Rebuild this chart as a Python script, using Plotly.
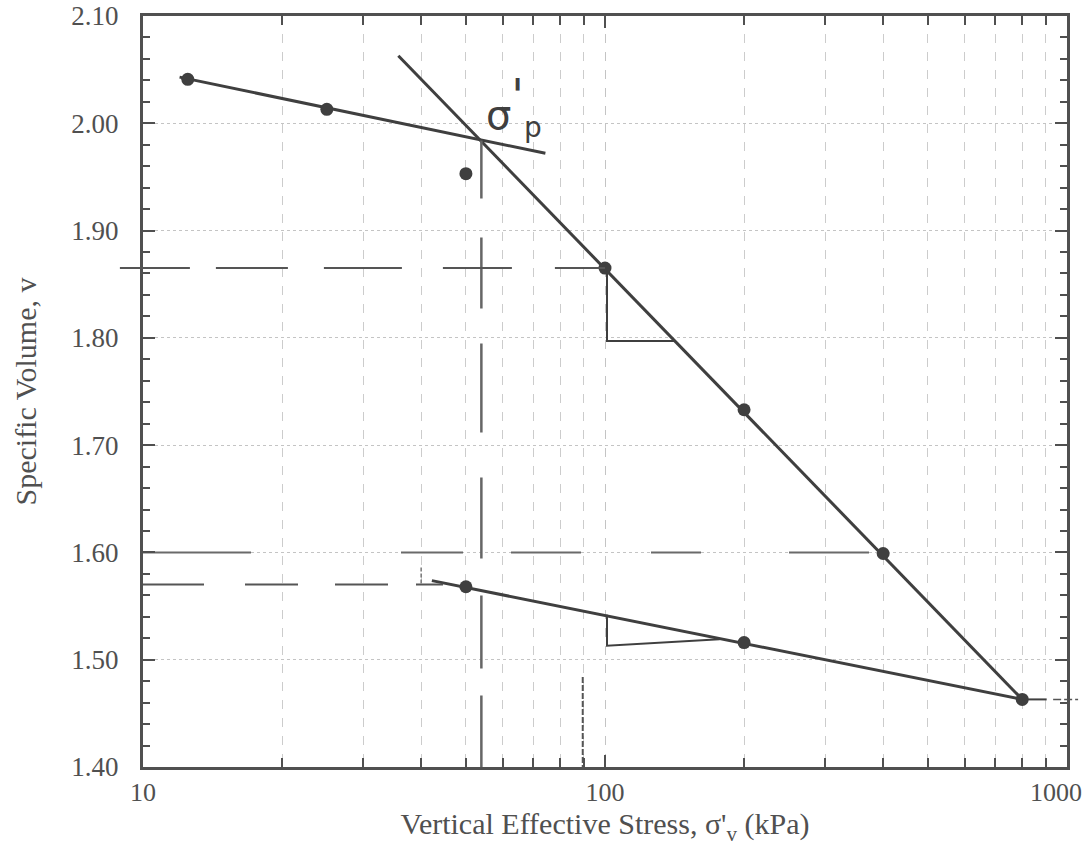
import math
import plotly.graph_objects as go

# ---- data ----
stress_load = [12.5, 25, 50, 100, 200, 400, 800]
v_load = [2.041, 2.013, 1.953, 1.865, 1.733, 1.599, 1.463]
stress_unload = [200, 50]
v_unload = [1.516, 1.568]

# fitted construction lines (hand drawn)
oc_line_x = [12.0, 74.3]
oc_line_v = [2.043, 1.972]
nc_line_x = [35.7, 800]
nc_line_v = [2.063, 1.463]
ur_line_x = [42.2, 800]
ur_line_v = [1.5737, 1.463]

sigma_p = 54.0
sigma_p_v = 1.984

tri1_x = [101, 101, 142]
tri1_v = [1.865, 1.797, 1.797]
tri2_x = [101, 101, 177]
tri2_v = [1.542, 1.513, 1.519]

guide_1865_end = 100
guide_157_end = 44.6
guide_160_end = 400

y_ticks = [1.40, 1.50, 1.60, 1.70, 1.80, 1.90, 2.00, 2.10]
x_ticks = [10, 100, 1000]
x_tick_labels = ["10", "100", "1000"]
x_minor = [20, 30, 40, 50, 60, 70, 80, 90, 200, 300, 400, 500, 600, 700, 800, 900]

INK = "#3f3f3f"
AXC = "#505050"
FONT = "Liberation Serif"

fig = go.Figure()

def px_x(val):
    # paper fraction for a stress value on the 10..1000 log axis
    return (math.log10(val) - 1.0) / 2.0

def line_trace(xs, ys, color=INK, width=3, dash="solid"):
    return go.Scatter(x=xs, y=ys, mode="lines",
                      line=dict(color=color, width=width, dash=dash),
                      hoverinfo="skip", showlegend=False)

# construction lines
fig.add_trace(line_trace(oc_line_x, oc_line_v))
fig.add_trace(line_trace(nc_line_x, nc_line_v))
fig.add_trace(line_trace(ur_line_x, ur_line_v))

# slope triangles
fig.add_trace(line_trace(tri1_x, tri1_v, width=2))
fig.add_trace(line_trace(tri2_x, tri2_v, width=2))

# sigma'_p vertical construction line
fig.add_trace(line_trace([sigma_p, sigma_p], [sigma_p_v, 1.40], color="#666666", width=2.5,
                         dash="58px,39px,71px,35px,89px,45px,81px,37px,73px,27px,80px"))

# 1.60 dashed guide
fig.add_trace(line_trace([10, guide_160_end], [1.60, 1.60], color="#6a6a6a", width=2,
                         dash="108px,150px,62px,48px,70px,70px,50px,88px,80px"))

# 1.57 dashed guide
fig.add_trace(line_trace([10, guide_157_end], [1.57, 1.57], color="#555555", width=2,
                         dash="61px,41px,53px,37px,53px,28px,40px"))

# stray hand strokes
fig.add_trace(line_trace([89.5, 89.5], [1.484, 1.40], color="#555555", width=2, dash="6px,2px"))
fig.add_trace(line_trace([40, 40], [1.586, 1.570], color="#777777", width=1.5, dash="4px,2px"))

# data points
fig.add_trace(go.Scatter(x=stress_load, y=v_load, mode="markers",
                         marker=dict(color=INK, size=13), showlegend=False))
fig.add_trace(go.Scatter(x=stress_unload, y=v_unload, mode="markers",
                         marker=dict(color=INK, size=13), showlegend=False))

shapes = [
    # 1.865 guide extending left of the axis
    dict(type="line", xref="paper", yref="y", x0=-0.025, x1=px_x(guide_1865_end),
         y0=1.865, y1=1.865,
         line=dict(color="#555555", width=2,
                   dash="70px,26px,72px,36px,78px,41px,69px,43px,60px")),
    # 1.463 line to the right of the last point
    dict(type="line", xref="paper", yref="y", x0=px_x(800), x1=0.978,
         y0=1.463, y1=1.463, line=dict(color=INK, width=2)),
    dict(type="line", xref="paper", yref="y", x0=0.985, x1=1.012,
         y0=1.463, y1=1.463, line=dict(color="#555555", width=1.5, dash="8px,3px")),
]

annotations = [
    dict(x=math.log10(63.5), y=2.016, xref="x", yref="y",
         text="σ<sup><span style='font-size:46px'>'</span></sup><sub>p</sub>",
         showarrow=False, font=dict(family="DejaVu Sans", size=40, color=INK)),
    # right-most decade label, pulled inward like the reference
    dict(x=0.988, y=-0.0333, xref="paper", yref="paper", text=x_tick_labels[2],
         showarrow=False, xanchor="center", yanchor="middle",
         font=dict(family=FONT, size=26, color=AXC)),
]

fig.update_layout(
    width=1087, height=854,
    margin=dict(l=143, r=20, t=16, b=87),
    paper_bgcolor="white", plot_bgcolor="white",
    font=dict(family=FONT, color=AXC),
    shapes=shapes, annotations=annotations,
    showlegend=False,
)

fig.update_xaxes(
    type="log", range=[1, 3], automargin=False, ticklabeloverflow="allow",
    tickvals=x_ticks[:2], ticktext=x_tick_labels[:2],
    tickfont=dict(size=26, family=FONT, color=AXC),
    ticks="inside", ticklen=12, tickwidth=2, tickcolor=AXC,
    showline=True, linecolor=AXC, linewidth=3, mirror="ticks",
    showgrid=True, gridcolor="#c4c4c4", gridwidth=1, griddash="dash",
    minor=dict(tickvals=x_minor, ticks="inside", ticklen=9, tickwidth=2,
               tickcolor=AXC, showgrid=True, gridcolor="#cccccc",
               gridwidth=1, griddash="dash"),
    zeroline=False,
    title=dict(text="Vertical Effective Stress, σ'<sub>v</sub> (kPa)",
               font=dict(size=30, family=FONT, color=AXC), standoff=2),
)

fig.update_yaxes(
    range=[1.40, 2.10], automargin=False, ticklabeloverflow="allow",
    tickvals=y_ticks, ticktext=[f"{t:.2f}" for t in y_ticks],
    tickfont=dict(size=27, family=FONT, color=AXC),
    ticklabelstandoff=16,
    ticks="inside", ticklen=12, tickwidth=2, tickcolor=AXC,
    showline=True, linecolor=AXC, linewidth=3, mirror="ticks",
    showgrid=True, gridcolor="#c4c4c4", gridwidth=1, griddash="dot",
    minor=dict(dtick=0.02, ticks="inside", ticklen=7, tickwidth=2,
               tickcolor=AXC, showgrid=False),
    zeroline=False,
    title=dict(text="Specific Volume, v",
               font=dict(size=30, family=FONT, color=AXC), standoff=26),
)

fig.write_html("out.html", config={"displayModeBar": False},
               post_script="document.body.style.margin='0';")
